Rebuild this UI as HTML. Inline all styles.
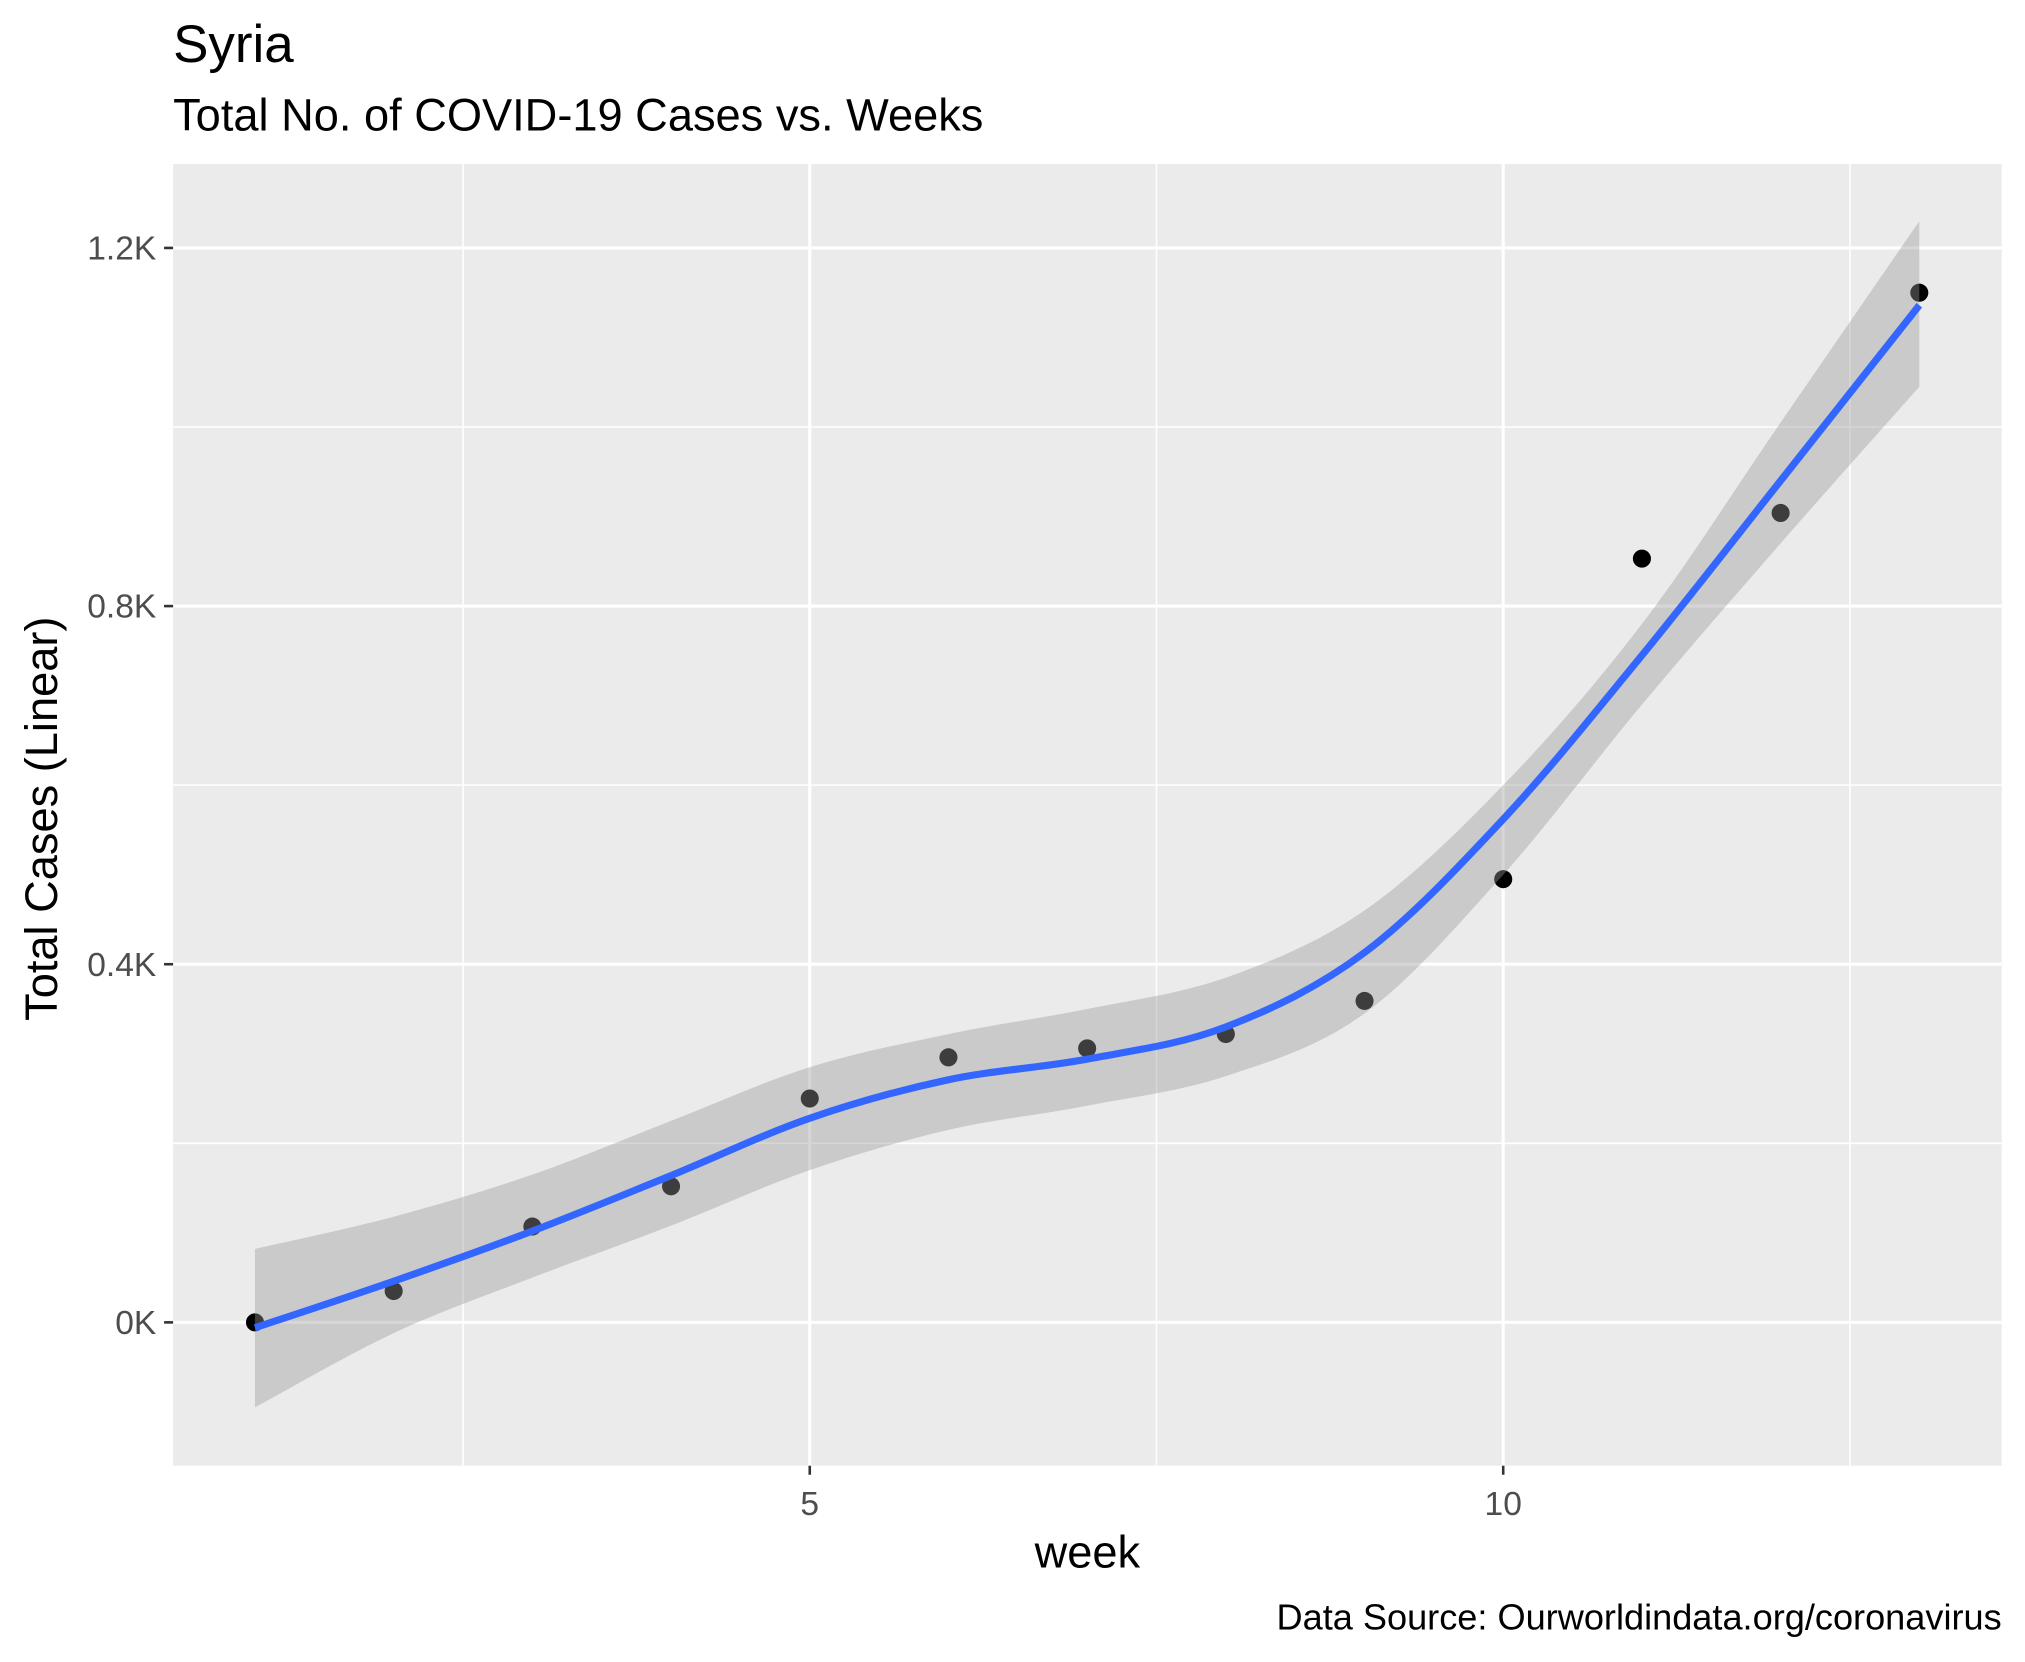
<!DOCTYPE html>
<html><head><meta charset="utf-8"><style>
html,body{margin:0;padding:0;background:#fff;}
svg{display:block;font-family:"Liberation Sans",Arial,sans-serif;}
</style></head><body>
<svg id="chart" width="2025" height="1662" viewBox="0 0 1568 1287" xmlns="http://www.w3.org/2000/svg">
<rect width="1568" height="1287" fill="#fff"/>
<text x="134" y="48" font-size="41" fill="#000">Syria</text>
<text x="134" y="101" font-size="35" fill="#000">Total No. of COVID-19 Cases vs. Weeks</text>
<rect x="134" y="127" width="1416" height="1008" fill="#ebebeb"/>
<g id="grid"></g>
<g id="points"></g>
<g id="band"></g>
<g id="fit"></g>
<g id="axes"></g>
<text x="842" y="1214" font-size="35" text-anchor="middle" fill="#000">week</text>
<text transform="translate(44,634) rotate(-90)" font-size="35" text-anchor="middle" fill="#000">Total Cases (Linear)</text>
<text x="1550" y="1262" font-size="28" text-anchor="end" fill="#000">Data Source: Ourworldindata.org/coronavirus</text>
</svg>
<script>
const weeks = [1,2,3,4,5,6,7,8,9,10,11,12,13];
const cases = [0,35,107,152,250,296,306,322,359,495,853,904,1150];
const fitVals = [-6,46,102,164,228,271,294,330,413,562,745,940,1136];
const bandUpper = [82,118,165,225,285,322,350,385,460,600,780,1005,1230];
const bandLower = [-95,-12,50,108,170,215,242,275,345,500,690,870,1045];
const xMajor = [5,10];
const xMinor = [2.5,7.5,12.5];
const yMajor = [0,400,800,1200];
const yMinor = [200,600,1000];
const yLabels = ["0K","0.4K","0.8K","1.2K"];

const NS="http://www.w3.org/2000/svg";
const X = w => 627 + (w-5)*(1164-627)/5;
const Y = v => 1024 - v*(1024-192)/1200;
function mk(tag, attrs, parent){const e=document.createElementNS(NS,tag);for(const k in attrs)e.setAttribute(k,attrs[k]);parent.appendChild(e);return e;}
function segs(pts){
  let d="";
  for(let i=0;i<pts.length-1;i++){
    const p0=pts[Math.max(0,i-1)],p1=pts[i],p2=pts[i+1],p3=pts[Math.min(pts.length-1,i+2)];
    const c1=[p1[0]+(p2[0]-p0[0])/6,p1[1]+(p2[1]-p0[1])/6];
    const c2=[p2[0]-(p3[0]-p1[0])/6,p2[1]-(p3[1]-p1[1])/6];
    d+=" C"+c1[0]+","+c1[1]+" "+c2[0]+","+c2[1]+" "+p2[0]+","+p2[1];
  }
  return d;
}
function smooth(pts){return "M"+pts[0][0]+","+pts[0][1]+segs(pts);}
const grid=document.getElementById('grid');
yMinor.forEach(v=>{const l=mk('line',{x1:134,x2:1550,y1:Y(v),y2:Y(v),stroke:'#fff','stroke-width':1.2},grid);

});
xMinor.forEach(v=>{const l=mk('line',{x1:X(v),x2:X(v),y1:127,y2:1135,stroke:'#fff','stroke-width':1.2},grid);

});
yMajor.forEach(v=>{const l=mk('line',{x1:134,x2:1550,y1:Y(v),y2:Y(v),stroke:'#fff','stroke-width':2.4},grid);

});
xMajor.forEach(v=>{const l=mk('line',{x1:X(v),x2:X(v),y1:127,y2:1135,stroke:'#fff','stroke-width':2.4},grid);

});

const pg=document.getElementById('points');
weeks.forEach((w,i)=>{const c=mk('circle',{cx:X(w),cy:Y(cases[i]),r:7,fill:'#000'},pg);

});

const up=weeks.map((w,i)=>[X(w),Y(bandUpper[i])]);
const lo=weeks.map((w,i)=>[X(w),Y(bandLower[i])]).reverse();
const bd=smooth(up)+" L"+lo[0][0]+","+lo[0][1]+segs(lo)+" Z";
const band=mk('path',{d:bd,fill:'#999','fill-opacity':0.4},document.getElementById('band'));



const fit=mk('path',{d:smooth(weeks.map((w,i)=>[X(w),Y(fitVals[i])])),fill:'none',stroke:'#3366ff','stroke-width':5.5},document.getElementById('fit'));



const ax=document.getElementById('axes');
yMajor.forEach((v,i)=>{
  const t=mk('line',{x1:127,x2:134,y1:Y(v),y2:Y(v),stroke:'#333','stroke-width':2},ax);
  
  
  const tx=mk('text',{x:121,y:Y(v)+9,'font-size':26,'text-anchor':'end',fill:'#4d4d4d'},ax);
  tx.textContent=yLabels[i];
  
  
});
xMajor.forEach(v=>{
  const t=mk('line',{x1:X(v),x2:X(v),y1:1135,y2:1142,stroke:'#333','stroke-width':2},ax);
  
  
  const tx=mk('text',{x:X(v),y:1173,'font-size':26,'text-anchor':'middle',fill:'#4d4d4d'},ax);
  tx.textContent=String(v);
  
  
});
</script>
</body></html>
